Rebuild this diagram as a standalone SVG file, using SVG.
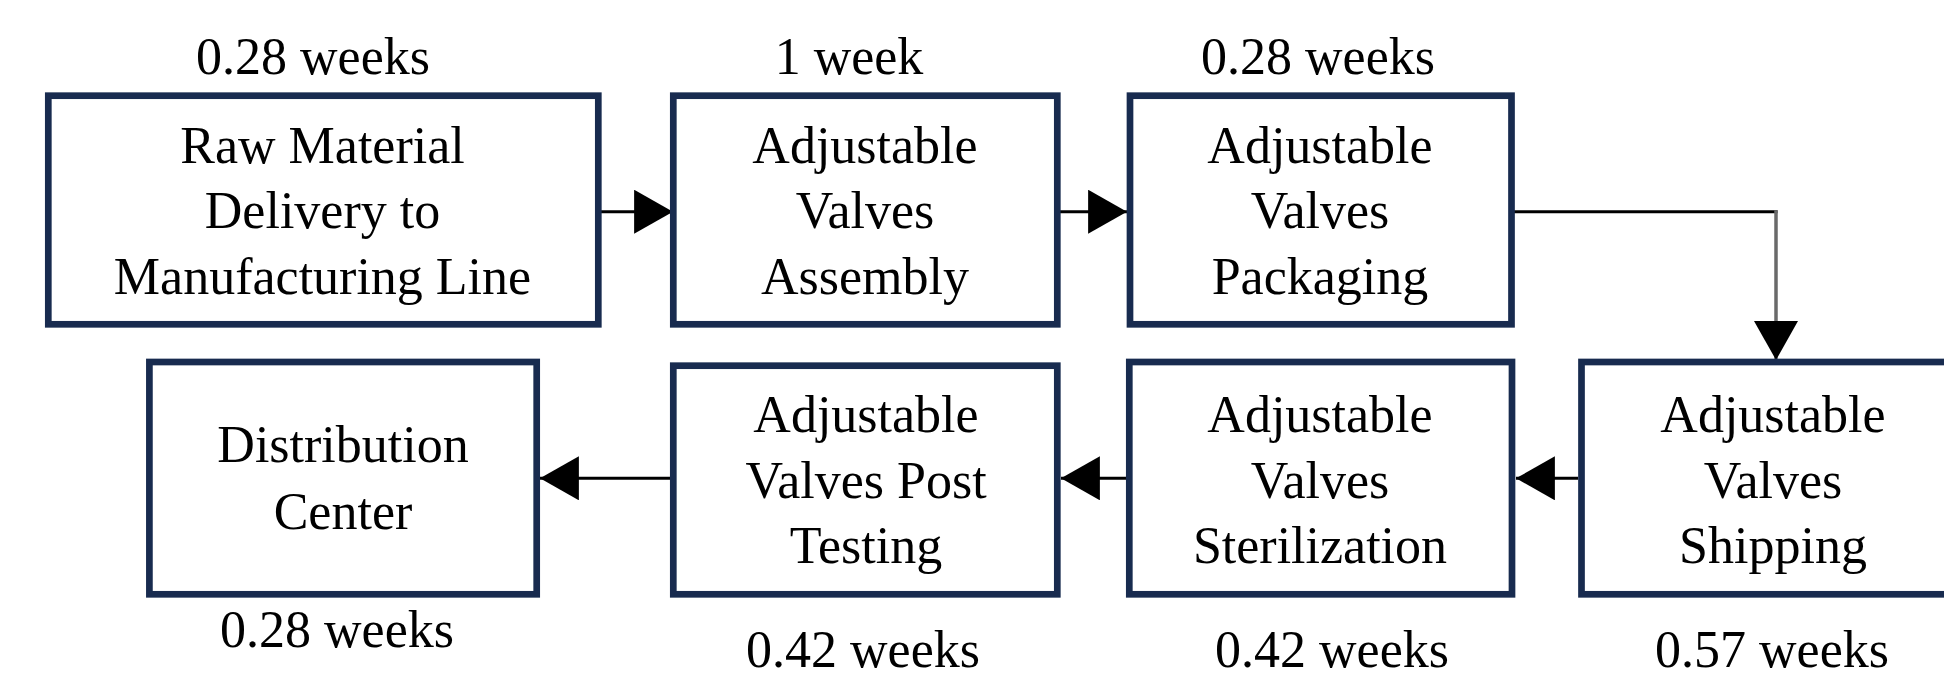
<svg xmlns="http://www.w3.org/2000/svg" width="1944" height="678" viewBox="0 0 1944 678">
<defs>
<style>
.box{fill:#ffffff;stroke:#182b4f;stroke-width:6.7}
.t{font-family:"Liberation Serif","Times New Roman",serif;font-size:52px;fill:#000;text-anchor:middle}
.c{fill:none;stroke:#000;stroke-width:3}
</style>
<marker id="ah" markerUnits="userSpaceOnUse" markerWidth="40" markerHeight="44" viewBox="0 0 38 43" refX="38" refY="21.5" orient="auto">
<path d="M0,0 L38,21.5 L0,43 Z" fill="#000"/>
</marker>
</defs>
<rect width="1944" height="678" fill="#ffffff"/>
<g id="connectors">
<line class="c" x1="601" y1="211.7" x2="673" y2="211.7" marker-end="url(#ah)"/>
<line class="c" x1="1060" y1="211.7" x2="1127" y2="211.7" marker-end="url(#ah)"/>
<line class="c" x1="1513" y1="211.7" x2="1777.5" y2="211.7"/>
<line class="c" x1="1776" y1="210.2" x2="1776" y2="360" marker-end="url(#ah)" style="stroke:#6a6a6a;stroke-width:3.5"/>
<line class="c" x1="1578" y1="478.3" x2="1516" y2="478.3" marker-end="url(#ah)"/>
<line class="c" x1="1126" y1="478.3" x2="1061" y2="478.3" marker-end="url(#ah)"/>
<line class="c" x1="670" y1="478.3" x2="540" y2="478.3" marker-end="url(#ah)"/>
</g>
<g id="n1">
<text class="t" x="313" y="74">0.28 weeks</text>
<rect class="box" x="48.3" y="95.7" width="550" height="228.6"/>
<text class="t" x="322.5" y="162.5">Raw Material</text>
<text class="t" x="322.5" y="228">Delivery to</text>
<text class="t" x="322.5" y="293.5">Manufacturing Line</text>
</g>
<g id="n2">
<text class="t" x="849" y="74">1 week</text>
<rect class="box" x="673.3" y="95.7" width="384" height="228.6"/>
<text class="t" x="865" y="162.5">Adjustable</text>
<text class="t" x="865" y="228">Valves</text>
<text class="t" x="865" y="293.5">Assembly</text>
</g>
<g id="n3">
<text class="t" x="1318" y="74">0.28 weeks</text>
<rect class="box" x="1130" y="95.7" width="381.5" height="228.6"/>
<text class="t" x="1320" y="162.5">Adjustable</text>
<text class="t" x="1320" y="228">Valves</text>
<text class="t" x="1320" y="293.5">Packaging</text>
</g>
<g id="n4">
<rect class="box" x="1581.5" y="362" width="400" height="232.3"/>
<text class="t" x="1773" y="432">Adjustable</text>
<text class="t" x="1773" y="498">Valves</text>
<text class="t" x="1773" y="563">Shipping</text>
<text class="t" x="1772" y="667">0.57 weeks</text>
</g>
<g id="n5">
<rect class="box" x="1129.3" y="362" width="382.7" height="232.3"/>
<text class="t" x="1320" y="432">Adjustable</text>
<text class="t" x="1320" y="498">Valves</text>
<text class="t" x="1320" y="563">Sterilization</text>
<text class="t" x="1332" y="667">0.42 weeks</text>
</g>
<g id="n6">
<rect class="box" x="673.3" y="365.7" width="384" height="228.6"/>
<text class="t" x="866" y="432">Adjustable</text>
<text class="t" x="866" y="498">Valves Post</text>
<text class="t" x="866" y="563">Testing</text>
<text class="t" x="863" y="667">0.42 weeks</text>
</g>
<g id="n7">
<rect class="box" x="149.4" y="362" width="387.3" height="232.3"/>
<text class="t" x="343" y="462">Distribution</text>
<text class="t" x="343" y="529">Center</text>
<text class="t" x="337" y="647">0.28 weeks</text>
</g>
</svg>
